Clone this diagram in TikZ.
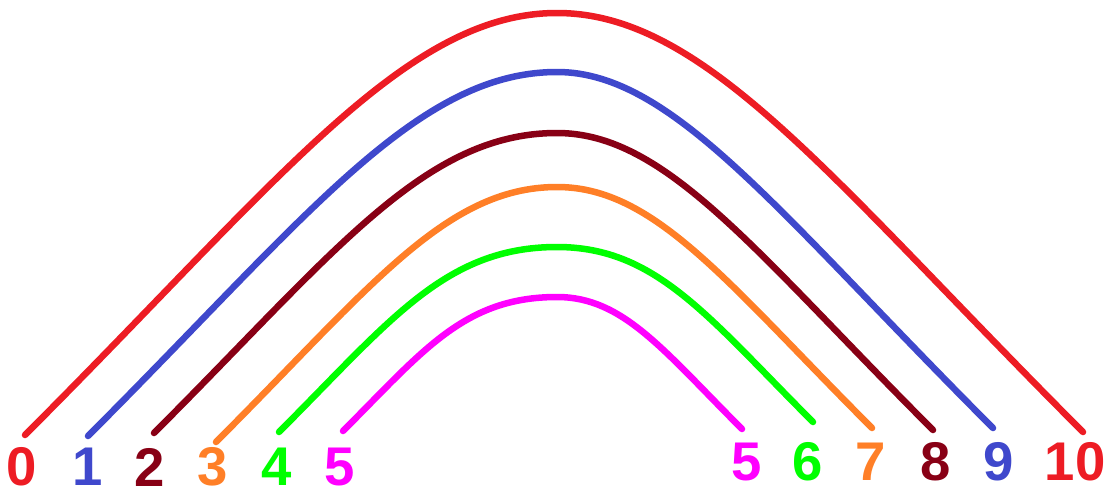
\documentclass[tikz,border=0pt]{standalone}
\usepackage{fontspec}
\setsansfont{Liberation Sans}
\usepackage{tikz}
\usetikzlibrary{calc}
\definecolor{arcRed}{HTML}{ED1C24}
\definecolor{arcBlue}{HTML}{3F48CC}
\definecolor{arcMaroon}{HTML}{880015}
\definecolor{arcOrange}{HTML}{FF7F27}
\definecolor{arcGreen}{HTML}{00FF00}
\definecolor{arcMagenta}{HTML}{FF00FF}
\tikzset{
  arcline/.style = {line width=1.85pt, line cap=round},
  numlabel/.style = {inner sep=0pt, font=\sffamily\bfseries\fontsize{15.5}{18}\selectfont},
}

\begin{document}
\begin{tikzpicture}[x=0.01cm,y=0.01cm]
  \useasboundingbox (0,0) rectangle (1112,493);

  % Left labels
  \foreach \x/\lab/\col in {22/0/arcRed, 88/1/arcBlue, 150/2/arcMaroon,
                            213/3/arcOrange, 277/4/arcGreen, 340/5/arcMagenta} {
    \node[numlabel, text=\col] (nl\lab) at (\x, 26) {\lab};
  }

  % Right labels
  \foreach \x/\lab/\col in {747/5/arcMagenta, 808/6/arcGreen, 871/7/arcOrange,
                            936/8/arcMaroon, 999/9/arcBlue, 1075/10/arcRed} {
    \node[numlabel, text=\col] (nr\lab) at (\x, 31) {\lab};
  }

  % Arcs: left end, top, right end
  \foreach \i/\j/\col/\ax/\ay/\ad/\am/\ty/\bx/\by/\bd/\bh in {
      0/10/arcRed/25/58/253/152/480/1083/61/251/149,
      1/9/arcBlue/88/57/218/141/421/993/65/214/116,
      2/8/arcMaroon/154/60/180/133/360/933/63/178/109,
      3/7/arcOrange/216/51/153/112/306/872/65/145/98,
      4/6/arcGreen/279/61/111/112/246/813/71/105/99,
      5/5/arcMagenta/343/62/80/93/196/742/64/79/66} {
    \coordinate (a\i) at (\ax, \ay);
    \coordinate (top\i) at (557, \ty);
    \coordinate (b\j) at (\bx, \by);
    \draw[arcline, \col] (a\i) .. controls ($(a\i)+(\ad,\ad)$) and ($(top\i)-(\am,0)$) .. (top\i)
      .. controls ($(top\i)+(\bh,0)$) and ($(b\j)+(-\bd,\bd)$) .. (b\j);
  }

\end{tikzpicture}
\end{document}
